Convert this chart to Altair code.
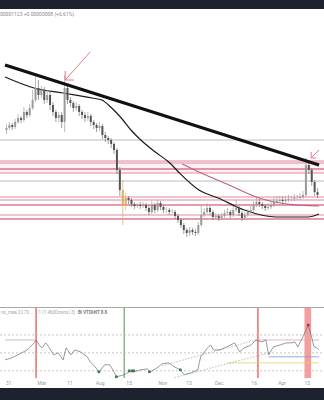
import altair as alt
import pandas as pd

# ---------------- data (price units, arbitrary scale) ----------------
closes = [172,175,173,178,182,180,188,185,192,200,
          212,205,210,200,205,195,188,182,185,178,
          212,200,197,192,194,188,185,182,184,178,
          175,172,174,165,162,160,156,150,130,110,
          95,102,100,96,94,95,94,95,92,88,
          95,90,97,93,90,90,88,88,84,80,
          75,70,67,70,68,67,75,85,88,92,
          88,83,84,82,84,87,88,85,90,92,
          87,82,85,88,90,95,98,96,94,92,
          93,95,98,99,100,99,100,101,101,102,
          102,103,105,135,130,118,108,105]
highs = [176,178,177,181,186,184,193,190,196,210,
         227,220,214,213,210,208,198,190,188,188,
         225,215,203,199,198,196,190,188,188,186,
         180,177,178,176,168,164,162,158,152,133,
         120,107,104,102,98,97,98,98,97,94,
         99,97,100,99,95,93,92,91,90,86,
         82,77,72,73,72,71,78,95,92,97,
         94,90,87,86,87,90,92,90,94,100,
         94,89,88,91,94,99,104,101,98,96,
         97,99,103,104,104,103,104,105,104,106,
         105,107,109,142,140,132,120,112]
lows = [166,170,170,171,176,177,178,182,183,190,
        198,200,202,196,197,190,184,178,178,172,
        168,196,193,188,189,184,181,178,179,174,
        171,168,169,161,158,156,152,146,126,104,
        75,90,96,93,91,92,91,92,89,85,
        86,87,88,90,87,87,85,85,81,77,
        72,66,63,64,65,64,65,73,83,86,
        85,80,81,79,80,82,85,82,83,88,
        84,79,80,83,86,88,93,93,91,89,
        90,91,93,96,97,96,97,98,99,99,
        100,100,101,103,126,114,104,102]
first_open = 170
opens = [first_open] + closes[:-1]
highlight_candles = [40, 41]

# trendline (index, price)
trend_idx = [-0.5, 107.5]
trend_val = [235, 135]

# slow moving average (black)
ma1_idx = [-0.5, 9.5, 19.5, 29.5, 32.8, 36.2, 39.5, 42.8, 46.2, 51.2, 56.2, 59.5, 66.2, 72.8, 81.8, 92.8, 103.8, 107.5]
ma1_val = [223, 212, 207, 202, 200, 192, 182, 170, 160, 148, 137, 127, 110, 102, 90, 83, 83, 86]

# second moving average (pink)
ma2_idx = [60.5, 66.2, 75.8, 86.8, 96.2, 107.5]
ma2_val = [136, 128, 116, 102, 96, 94]

# horizontal levels
gray_levels = [160, 119]
pink_levels = [139, 137, 127, 103, 100, 85]
red_levels = [131, 95, 81]
zone_low, zone_high = 127, 139

# arrows (segment id, index, price)
arrow_seg = ["a1", "a1", "h1", "h1", "h1", "a2", "a2", "h2", "h2", "h2"]
arrow_idx = [28.8, 20.2, 20.2, 20.2, 23.2, 107.5, 104.8, 104.8, 104.8, 106.5]
arrow_val = [248, 220, 229, 220, 220, 150, 142, 148, 142, 142]

# RSI panel
rsi_idx = [-0.5, 1.8, 5.2, 7.2, 9.5, 10.2, 11.2, 12.2, 13.5, 14.5, 16.2, 17.8, 19.5, 20.5, 22.2, 23.5,
           25.5, 27.8, 28.8, 30.5, 31.8, 33.8, 35.5, 37.2, 37.8, 40.5, 42.2, 43.8, 46.2, 48.5, 49.5,
           51.8, 53.5, 55.8, 57.8, 59.8, 61.2, 63.5, 65.8, 66.8, 69.2, 70.2, 71.2, 73.5, 75.8, 78.5,
           80.2, 81.8, 84.2, 85.8, 87.8, 89.2, 90.2, 91.8, 94.2, 96.2, 97.8, 99.2, 100.2, 101.8,
           103.8, 104.5, 105.8, 106.8, 107.5]
rsi_val = [42.2, 44.4, 50, 53.3, 61.1, 64.4, 58.9, 55.6, 61.1, 56.7, 47.8, 50, 42.2, 55.6, 47.8, 53.3,
           51.1, 45.6, 40, 34.4, 28.9, 36.7, 36.7, 27.8, 23.3, 25.6, 28.9, 28.9, 31.1, 32.2, 28.9,
           33.3, 37.8, 38.9, 34.4, 31.1, 25.6, 27.8, 31.1, 45.6, 55.6, 58.9, 53.3, 53.3, 56.7, 61.1,
           51.1, 55.6, 58.9, 64.4, 62.2, 64.4, 47.8, 56.7, 58.9, 61.1, 61.1, 62.2, 56.7, 66.7,
           81.1, 73.3, 56.7, 55.6, 53.3]
rsi_levels = [70, 50, 30]
green_dot_idx = [31.8, 37.8, 42.2, 43.2, 43.8, 49.2, 59.8]
green_dot_val = [28.9, 23.3, 30, 30, 30, 28.9, 31.1]
red_dot_idx = [103.8]
red_dot_val = [81.1]
red_signal_idx = [10.2, 86.5]
green_signal_idx = [40.5]
wide_band = (102.5, 104.8)
seg_name = ["gray", "gray", "pink", "pink", "blue", "blue", "yellow", "yellow"]
seg_idx = [-0.5, 10.2, 85.8, 107.5, 90.2, 107.5, 76, 107.5]
seg_val = [64.4, 64.4, 64.4, 64.4, 45.6, 45.6, 38.9, 38.9]
chan_name = ["up", "up", "lo", "lo"]
chan_idx = [53.5, 85.8, 57.8, 90.2]
chan_val = [35.6, 64.4, 22.5, 50]

# x axis labels
xlab_idx = [0.8, 12.2, 21.8, 32.2, 42.2, 53.8, 62.8, 73.2, 85.2, 94.8, 103.5]
xlab_txt = ["31", "Mar", "11", "Aug", "15", "Nov", "13", "Dec", "16", "Apr", "15"]

header_txt = "00001123  +0.00000008 (+6.61%)"
legend_txt = "rsi_mea 22 70 ... 8 1 (1.4b0Dzwns) 3)"
legend_txt2 = "Bi VTDI#IT  8 8"

# ---------------- build ----------------
W, H = 324, 400
xs = alt.Scale(domain=[-0.5, 107.5], nice=False, zero=False)
ys = alt.Scale(domain=[0, 290], range=[300, 10], nice=False, zero=False)
yr = alt.Scale(domain=[22, 100], range=[378, 308], nice=False, zero=False)

candles = pd.DataFrame({"i": list(range(len(closes))), "o": opens, "c": closes, "h": highs, "l": lows})
candles["kind"] = ["hl" if k in highlight_candles else ("up" if c >= o else "dn")
                   for k, (o, c) in enumerate(zip(opens, closes))]

X = alt.X("i:Q", scale=xs, axis=None)

def Y(field, scale):
    return alt.Y(field, scale=scale, axis=None)

bg_top = alt.Chart(pd.DataFrame({"a": [0]})).mark_rect(color="#1d222e").encode(
    x=alt.value(0), x2=alt.value(W), y=alt.value(0), y2=alt.value(9))
bg_bot = alt.Chart(pd.DataFrame({"a": [0]})).mark_rect(color="#1d222e").encode(
    x=alt.value(0), x2=alt.value(W), y=alt.value(388), y2=alt.value(H))

header = alt.Chart(pd.DataFrame({"t": [header_txt]})).mark_text(
    align="left", baseline="middle", fontSize=5, color="#8a8a8a", font="Roboto").encode(
    x=alt.value(0), y=alt.value(14), text="t:N")

zone = alt.Chart(pd.DataFrame({"lo": [zone_low], "hi": [zone_high]})).mark_rect(
    color="#f3c6d0", opacity=0.25).encode(
    x=alt.value(0), x2=alt.value(W), y=Y("lo:Q", ys), y2="hi:Q")

def hlines(levels, color, width, opacity=1.0):
    return alt.Chart(pd.DataFrame({"p": levels})).mark_rule(
        color=color, strokeWidth=width, opacity=opacity).encode(
        x=alt.value(0), x2=alt.value(W), y=Y("p:Q", ys))

gray_l = hlines(gray_levels, "#b4b4b4", 0.9)
pink_l = hlines(pink_levels, "#e7a3b3", 1.3, 0.85)
red_l = hlines(red_levels, "#c93a58", 1.2)

wicks = alt.Chart(candles).mark_rule(strokeWidth=0.7).encode(
    x=X, y=Y("l:Q", ys), y2="h:Q",
    color=alt.Color("kind:N", scale=alt.Scale(domain=["up", "dn", "hl"],
                                             range=["#a0a0a0", "#757575", "#d8b060"]), legend=None))
bodies = alt.Chart(candles).mark_bar(size=2).encode(
    x=X, y=Y("o:Q", ys), y2="c:Q",
    color=alt.Color("kind:N", scale=alt.Scale(domain=["up", "dn", "hl"],
                                             range=["#9a9a9a", "#555555", "#d8b060"]), legend=None))

trend = alt.Chart(pd.DataFrame({"i": trend_idx, "p": trend_val})).mark_line(
    color="#111111", strokeWidth=3.2).encode(x=X, y=Y("p:Q", ys))
ma1 = alt.Chart(pd.DataFrame({"i": ma1_idx, "p": ma1_val})).mark_line(
    color="#1a1a1a", strokeWidth=1.2, interpolate="monotone").encode(x=X, y=Y("p:Q", ys))
ma2 = alt.Chart(pd.DataFrame({"i": ma2_idx, "p": ma2_val})).mark_line(
    color="#c06080", strokeWidth=1.1, interpolate="monotone").encode(x=X, y=Y("p:Q", ys))

arrows = alt.Chart(pd.DataFrame({"s": arrow_seg, "i": arrow_idx, "p": arrow_val,
                                 "o": list(range(len(arrow_seg)))})).mark_line(
    color="#e8788c", strokeWidth=1).encode(x=X, y=Y("p:Q", ys), detail="s:N", order="o:Q")

# RSI panel
sep = alt.Chart(pd.DataFrame({"a": [0]})).mark_rule(color="#a8a8a8", strokeWidth=1).encode(
    x=alt.value(0), x2=alt.value(W), y=alt.value(307.5))

wide = alt.Chart(pd.DataFrame({"a": [wide_band[0]], "b": [wide_band[1]]})).mark_rect(
    color="#f27d7d", opacity=0.75).encode(
    x=alt.X("a:Q", scale=xs, axis=None), x2="b:Q", y=alt.value(308), y2=alt.value(378))
red_sig = alt.Chart(pd.DataFrame({"i": red_signal_idx})).mark_rule(
    color="#f07474", strokeWidth=1.6).encode(x=X, y=alt.value(308), y2=alt.value(378))
green_sig = alt.Chart(pd.DataFrame({"i": green_signal_idx})).mark_rule(
    color="#7aa97a", strokeWidth=1.3).encode(x=X, y=alt.value(308), y2=alt.value(378))

rsi_lv = alt.Chart(pd.DataFrame({"v": rsi_levels})).mark_rule(
    color="#b8b8b8", strokeWidth=0.8, strokeDash=[2, 2]).encode(
    x=alt.value(0), x2=alt.value(W), y=Y("v:Q", yr))

segs = alt.Chart(pd.DataFrame({"s": seg_name, "i": seg_idx, "v": seg_val})).mark_line(
    strokeWidth=0.8).encode(
    x=X, y=Y("v:Q", yr), detail="s:N",
    color=alt.Color("s:N", scale=alt.Scale(domain=["gray", "pink", "blue", "yellow"],
                                          range=["#b0b0b0", "#e3a0b4", "#8a8fd8", "#e6d36a"]),
                    legend=None))
chan = alt.Chart(pd.DataFrame({"s": chan_name, "i": chan_idx, "v": chan_val})).mark_line(
    color="#a0a0a0", strokeWidth=0.7, strokeDash=[1.5, 1.5]).encode(
    x=X, y=Y("v:Q", yr), detail="s:N")

rsi = alt.Chart(pd.DataFrame({"i": rsi_idx, "v": rsi_val})).mark_line(
    color="#6e6e6e", strokeWidth=0.7).encode(x=X, y=Y("v:Q", yr))
gdots = alt.Chart(pd.DataFrame({"i": green_dot_idx, "v": green_dot_val})).mark_circle(
    color="#3f7a55", size=9, opacity=1).encode(x=X, y=Y("v:Q", yr))
rdots = alt.Chart(pd.DataFrame({"i": red_dot_idx, "v": red_dot_val})).mark_circle(
    color="#a33a45", size=9, opacity=1).encode(x=X, y=Y("v:Q", yr))

leg1 = alt.Chart(pd.DataFrame({"t": [legend_txt]})).mark_text(
    align="left", baseline="middle", fontSize=4.5, color="#a8a8a8", font="Roboto").encode(
    x=alt.value(1), y=alt.value(313), text="t:N")
leg2 = alt.Chart(pd.DataFrame({"t": [legend_txt2]})).mark_text(
    align="left", baseline="middle", fontSize=4.5, color="#7a7a7a", font="Roboto",
    fontWeight="bold").encode(x=alt.value(78), y=alt.value(313), text="t:N")

xlabels = alt.Chart(pd.DataFrame({"i": xlab_idx, "t": xlab_txt})).mark_text(
    baseline="middle", fontSize=5, color="#9a9a9a", font="Roboto").encode(
    x=X, y=alt.value(383), text="t:N")

chart = alt.layer(
    bg_top, header, zone, gray_l, pink_l, red_l, ma2, ma1, wicks, bodies, trend, arrows,
    wide, red_sig, green_sig, rsi_lv, segs, chan, rsi, gdots, rdots, sep, leg1, leg2,
    xlabels, bg_bot
).resolve_scale(y="independent", color="independent").properties(
    width=W, height=H, padding=0, autosize="none", background="white"
).configure_view(stroke=None)

chart.save("out.html", embed_options={"renderer": "svg", "actions": False})
